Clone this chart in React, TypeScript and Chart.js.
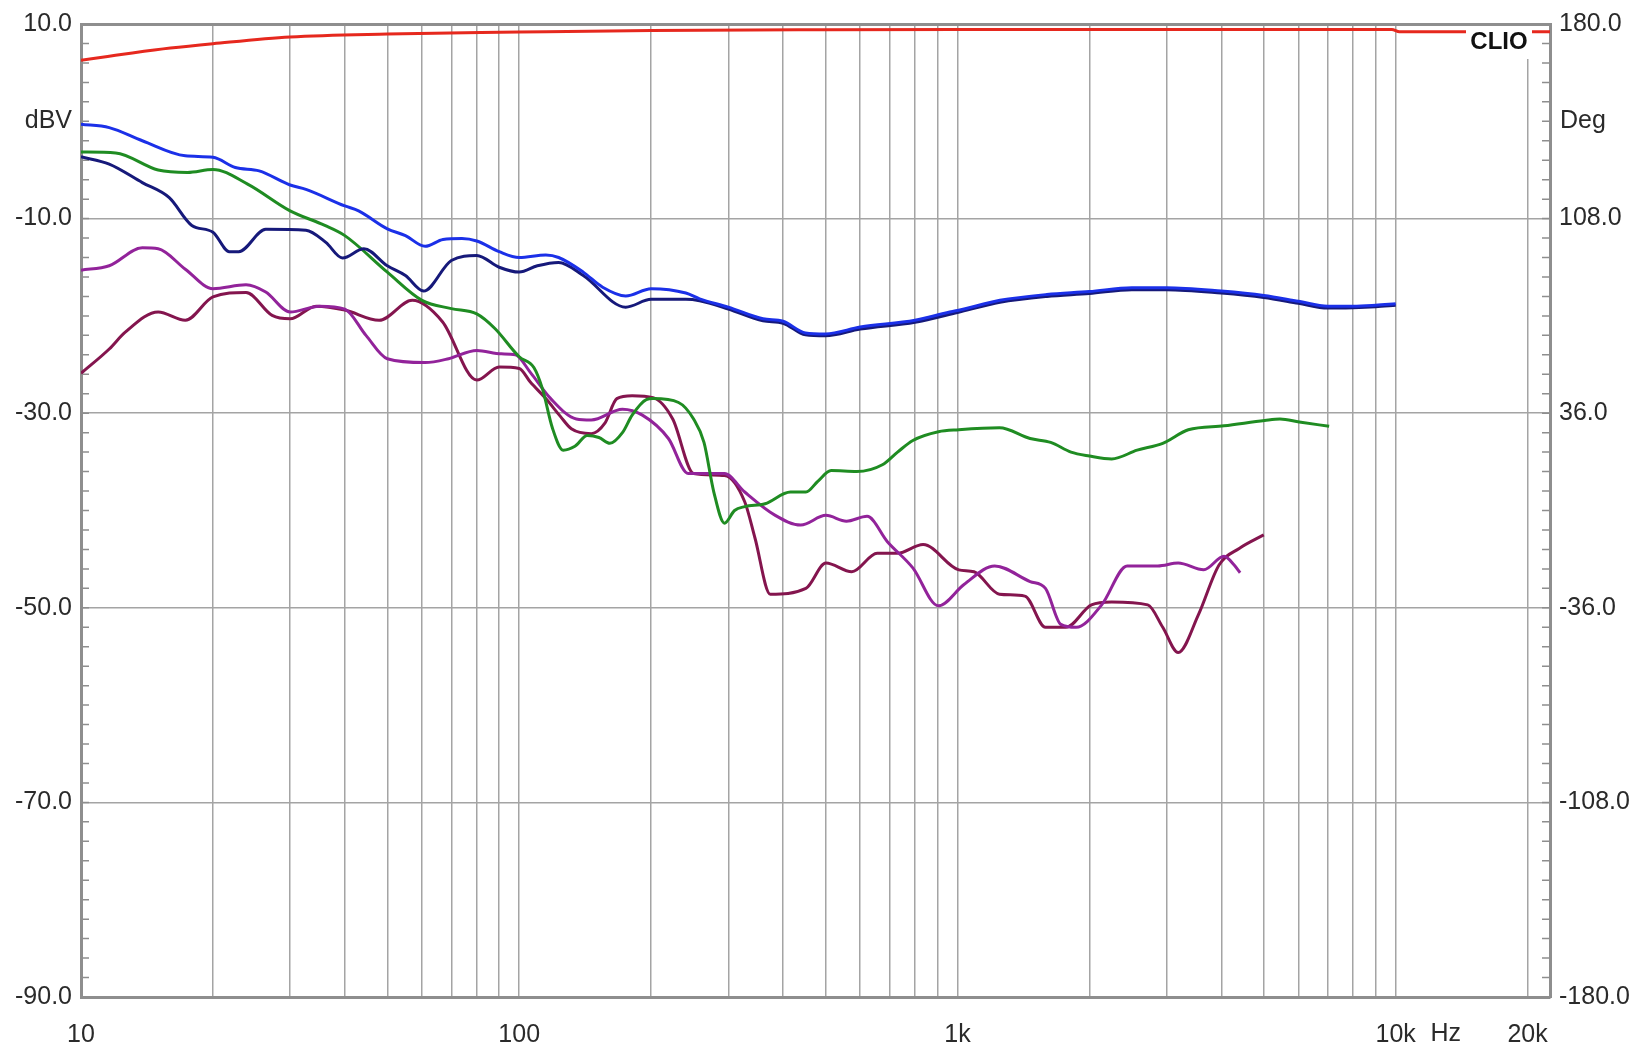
import React, { useEffect, useRef } from 'react';
import { Chart, registerables } from 'chart.js';

Chart.register(...registerables);

// ---------- data (dBV vs Hz) ----------
const blueFreq = [10, 11.6, 13.8, 17.3, 20, 22.5, 25.5, 30, 32.6, 40, 43, 50, 55, 61, 67, 74, 80, 90, 100, 115, 123, 140, 155, 175, 200, 240, 258, 300, 360, 400, 450, 500, 600, 800, 960, 1000, 1250, 1600, 2000, 2500, 3000, 4000, 5000, 6000, 7000, 8000, 9000, 10000];
const blueDb = [-0.3, -0.65, -2.0, -3.55, -3.7, -4.75, -5.1, -6.55, -7.0, -8.7, -9.2, -11.05, -11.75, -12.85, -12.15, -12.05, -12.3, -13.4, -14.0, -13.75, -14.0, -15.5, -17.05, -17.95, -17.2, -17.65, -18.25, -19.1, -20.3, -20.55, -21.75, -21.85, -21.15, -20.45, -19.6, -19.45, -18.4, -17.8, -17.5, -17.1, -17.1, -17.45, -17.9, -18.5, -19.0, -19.0, -18.9, -18.75];

const navyFreq = [10, 11.6, 13.8, 15.9, 17.9, 20, 21.8, 22.9, 26.4, 32.6, 36.2, 39.5, 44.2, 50, 55, 60.5, 70, 80, 90, 100, 110, 123, 140, 175, 200, 240, 258, 300, 360, 400, 450, 500, 600, 800, 1000, 1250, 1600, 2000, 2500, 3000, 4000, 5000, 6000, 7000, 8000, 9000, 10000];
const navyDb = [-3.65, -4.4, -6.3, -7.85, -10.7, -11.4, -13.4, -13.4, -11.1, -11.2, -12.45, -14.05, -13.1, -14.85, -15.85, -17.45, -14.3, -13.8, -15.0, -15.5, -14.85, -14.5, -15.85, -19.1, -18.3, -18.3, -18.45, -19.3, -20.5, -20.75, -21.95, -22.05, -21.35, -20.65, -19.65, -18.6, -18.0, -17.7, -17.3, -17.3, -17.65, -18.1, -18.7, -19.2, -19.15, -19.05, -18.9];

const greenFreq = [10, 12, 15, 17.5, 20, 24, 30, 36, 40, 50, 60, 70, 80, 88, 100, 108, 113, 119, 126, 134, 143, 152, 161, 172, 181, 195, 202, 231, 250, 264, 278, 294, 310, 327, 364, 416, 451, 480, 515, 589, 674, 730, 791, 905, 1007, 1247, 1465, 1632, 1816, 2000, 2249, 2571, 2941, 3364, 4059, 5023, 5445, 6026, 7050];
const greenDb = [-3.15, -3.25, -5.0, -5.25, -4.95, -6.45, -9.2, -10.7, -11.75, -15.5, -18.4, -19.25, -19.8, -21.3, -24.2, -25.3, -27.5, -31.5, -33.8, -33.4, -32.3, -32.5, -33.1, -32.0, -30.2, -28.6, -28.5, -28.9, -30.6, -33.0, -38.1, -41.3, -40.0, -39.6, -39.3, -38.1, -38.1, -37.0, -35.9, -36.0, -35.3, -34.0, -32.8, -31.9, -31.7, -31.5, -32.6, -33.0, -34.0, -34.4, -34.7, -33.8, -33.1, -31.7, -31.3, -30.75, -30.6, -30.9, -31.35];

const purpleFreq = [10, 11.6, 13.8, 15, 17.3, 20, 23.8, 26.4, 30, 35, 40, 44.7, 50, 61, 69, 80, 91, 98, 106, 118, 135, 146, 172, 191, 219, 243, 294, 327, 384, 439, 501, 558, 622, 692, 791, 905, 1035, 1216, 1465, 1588, 1721, 1866, 2134, 2440, 2866, 3190, 3647, 4059, 4280, 4416];
const purpleDb = [-15.3, -14.85, -13.0, -13.1, -15.2, -17.2, -16.8, -17.55, -19.6, -19.0, -19.3, -22.0, -24.4, -24.8, -24.4, -23.55, -23.9, -24.0, -25.8, -28.5, -30.6, -30.7, -29.6, -30.2, -32.6, -36.2, -36.2, -38.1, -40.5, -41.5, -40.5, -41.1, -40.6, -43.2, -45.9, -49.8, -47.6, -45.7, -47.3, -48.0, -51.7, -52.0, -49.7, -45.7, -45.7, -45.4, -46.1, -44.7, -45.6, -46.4];

const maroonFreq = [10, 11.6, 12.6, 15, 17.3, 20, 23.8, 27.3, 30, 34.4, 40, 47.9, 57, 66.8, 80, 90, 100, 106, 115, 124, 131.5, 146, 157, 167, 181, 202, 224, 250, 294, 327, 345, 374, 451, 501, 574, 656, 730, 835, 1007, 1091, 1247, 1425, 1588, 1769, 2022, 2249, 2718, 2941, 3190, 3548, 3953, 4395, 5000];
const maroonDb = [-25.9, -23.4, -21.7, -19.6, -20.45, -18.05, -17.6, -19.95, -20.3, -19.0, -19.4, -20.45, -18.4, -20.6, -26.6, -25.25, -25.4, -26.8, -28.5, -30.3, -31.6, -32.1, -31.0, -28.5, -28.2, -28.4, -30.6, -36.2, -36.4, -39.1, -42.8, -48.6, -48.0, -45.4, -46.3, -44.4, -44.4, -43.5, -46.1, -46.3, -48.6, -48.8, -52.0, -52.0, -49.7, -49.4, -49.7, -52.0, -54.6, -50.7, -45.6, -43.9, -42.5];

// phase (Deg, right axis)
const phaseFreq = [10, 11.5, 13.1, 16, 20, 30, 50, 100, 200, 500, 1000, 9800, 10200, 22500];
const phaseDeg = [166.6, 168.0, 169.3, 171.1, 172.7, 175.2, 176.3, 177.0, 177.6, 177.9, 178.0, 178.0, 177.1, 177.1];

// ---------- axes ----------
const yTicks = [-90, -70, -50, -30, -10, 10];
const y2Ticks = [-180, -108, -36, 36, 108, 180];
const xGridFreqs = [10, 20, 30, 40, 50, 60, 70, 80, 90, 100, 200, 300, 400, 500, 600, 700, 800, 900, 1000, 2000, 3000, 4000, 5000, 6000, 7000, 8000, 9000, 10000, 20000];
const xTickLabels: Record<number, string> = { 10: '10', 100: '100', 1000: '1k', 10000: '10k', 20000: '20k' };
const minorStepDb = 2;

const FONT = '"Liberation Sans", Arial, Helvetica, sans-serif';
const FS = 25;
const TEXT = '#2a2a2a';
const GRID = '#a4a4a4';
const BORDER = '#8e8e8e';

const pts = (xs: number[], ys: number[]) => xs.map((x, i) => ({ x, y: ys[i] }));

const overlay = {
  id: 'overlay',
  beforeDatasetsDraw(chart: any) {
    const { ctx, chartArea: ca, scales } = chart;
    ctx.save();
    ctx.strokeStyle = BORDER;
    ctx.lineWidth = 1.5;
    const y = scales.y;
    for (let v = y.min + minorStepDb; v < y.max; v += minorStepDb) {
      const py = y.getPixelForValue(v);
      ctx.beginPath();
      ctx.moveTo(ca.left, py);
      ctx.lineTo(ca.left + 8, py);
      ctx.moveTo(ca.right - 8, py);
      ctx.lineTo(ca.right, py);
      ctx.stroke();
    }
    ctx.restore();
  },
  afterDatasetsDraw(chart: any) {
    const { ctx, chartArea: ca, scales } = chart;
    ctx.save();
    // CLIO badge
    ctx.fillStyle = '#ffffff';
    ctx.fillRect(ca.right - 84, ca.top + 2, 66, 33);
    ctx.fillStyle = '#111111';
    ctx.font = `bold 24px ${FONT}`;
    ctx.textAlign = 'center';
    ctx.textBaseline = 'middle';
    ctx.fillText('CLIO', ca.right - 51, ca.top + 18);
    // unit labels
    ctx.font = `${FS}px ${FONT}`;
    ctx.fillStyle = TEXT;
    const y0 = scales.y.getPixelForValue(0);
    ctx.textAlign = 'right';
    ctx.fillText('dBV', ca.left - 9, y0);
    ctx.textAlign = 'left';
    ctx.fillText('Deg', ca.right + 10, y0);
    ctx.textAlign = 'center';
    ctx.fillText('Hz', scales.x.getPixelForValue(10000) + 50, ca.bottom + 37);
    ctx.restore();
  },
};

export default function App() {
  const ref = useRef<HTMLCanvasElement | null>(null);

  useEffect(() => {
    if (!ref.current) return;
    const lw = 3;
    const mk = (label: string, xs: number[], ys: number[], color: string, axis = 'y') => ({
      label,
      data: pts(xs, ys),
      borderColor: color,
      backgroundColor: color,
      borderWidth: lw,
      pointRadius: 0,
      fill: false,
      cubicInterpolationMode: 'monotone' as const,
      yAxisID: axis,
    });
    const chart = new Chart(ref.current, {
      type: 'line',
      data: {
        datasets: [
          mk('blue', blueFreq, blueDb, '#1b30e8'),
          mk('navy', navyFreq, navyDb, '#16197a'),
          mk('green', greenFreq, greenDb, '#1f8c22'),
          mk('purple', purpleFreq, purpleDb, '#92239a'),
          mk('maroon', maroonFreq, maroonDb, '#84154e'),
          mk('phase', phaseFreq, phaseDeg, '#e6281e', 'y2'),
        ],
      },
      options: {
        animation: false,
        responsive: false,
        devicePixelRatio: 1,
        events: [],
        layout: { padding: { top: 21, left: 0, right: 0, bottom: 0 } },
        plugins: { legend: { display: false }, tooltip: { enabled: false }, title: { display: false } },
        scales: {
          x: {
            type: 'logarithmic',
            min: 10,
            max: 22500,
            afterBuildTicks: (s: any) => {
              s.ticks = xGridFreqs.map((v) => ({ value: v }));
            },
            afterFit: (s: any) => {
              s.height = 52;
            },
            grid: { color: GRID, lineWidth: 1.5, drawTicks: false },
            border: { display: true, color: BORDER, width: 3 },
            ticks: {
              autoSkip: false,
              maxRotation: 0,
              padding: 23,
              color: TEXT,
              font: { family: FONT, size: FS },
              callback: (v: any) => xTickLabels[Number(v)] ?? '',
            },
          },
          y: {
            type: 'linear',
            position: 'left',
            min: -90,
            max: 10,
            afterBuildTicks: (s: any) => {
              s.ticks = yTicks.map((v) => ({ value: v }));
            },
            afterFit: (s: any) => {
              s.width = 81;
            },
            grid: {
              color: (c: any) => (c.tick && c.tick.value === 10 ? BORDER : GRID),
              lineWidth: (c: any) => (c.tick && c.tick.value === 10 ? 3 : 1.5),
              drawTicks: false,
            },
            border: { display: true, color: BORDER, width: 3 },
            ticks: {
              padding: 9,
              color: TEXT,
              font: { family: FONT, size: FS },
              callback: (v: any) => Number(v).toFixed(1),
            },
          },
          y2: {
            type: 'linear',
            position: 'right',
            min: -180,
            max: 180,
            afterBuildTicks: (s: any) => {
              s.ticks = y2Ticks.map((v) => ({ value: v }));
            },
            afterFit: (s: any) => {
              s.width = 94;
            },
            grid: { drawOnChartArea: false, drawTicks: false },
            border: { display: true, color: BORDER, width: 3 },
            ticks: {
              padding: 9,
              color: TEXT,
              font: { family: FONT, size: FS },
              callback: (v: any) => Number(v).toFixed(1),
            },
          },
        },
      },
      plugins: [overlay],
    } as any);
    return () => chart.destroy();
  }, []);

  return (
    <div style={{ position: 'absolute', left: 0, top: 0, width: 1644, height: 1049, background: '#fff' }}>
      <canvas ref={ref} width={1644} height={1049} style={{ display: 'block', width: 1644, height: 1049 }} />
    </div>
  );
}
